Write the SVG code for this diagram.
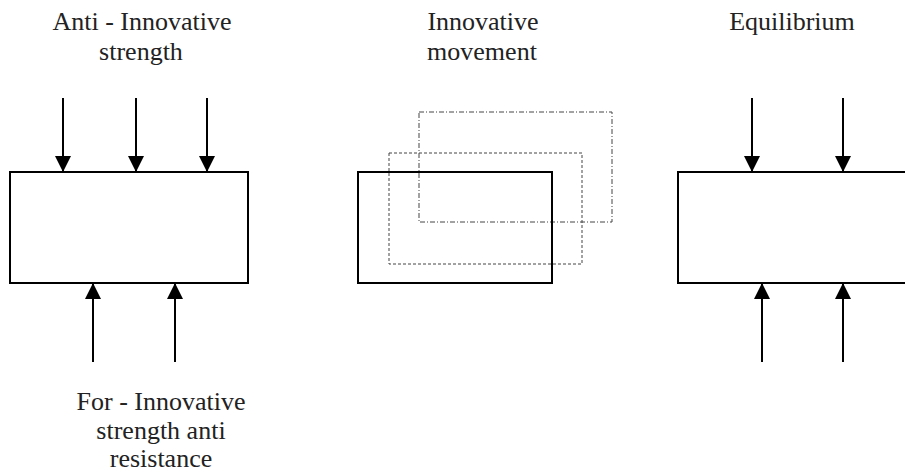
<svg xmlns="http://www.w3.org/2000/svg" width="905" height="475" viewBox="0 0 905 475">
<style>
.box{fill:none;stroke:#000;stroke-width:2}
.arr{stroke:#000;stroke-width:2;marker-end:url(#ah)}
.dash{fill:none;stroke:#444;stroke-width:1;stroke-dasharray:3 2}
.dashdot{fill:none;stroke:#444;stroke-width:1;stroke-dasharray:5 2 1 2}
</style>
<defs>
<marker id="ah" markerUnits="userSpaceOnUse" markerWidth="16" markerHeight="16" viewBox="0 0 16 16" refX="16" refY="8" orient="auto">
<path d="M0,0 L16,8 L0,16 Z" fill="#000"/>
</marker>
</defs>
<g id="labels" font-family="Liberation Serif, Times New Roman, Times, serif" font-size="26" fill="#222" text-anchor="middle">
<text x="142" y="30">Anti - Innovative</text>
<text x="141" y="60">strength</text>
<text x="483" y="30">Innovative</text>
<text x="482" y="60">movement</text>
<text x="792" y="30">Equilibrium</text>
<text x="161" y="410">For - Innovative</text>
<text x="161" y="439">strength anti</text>
<text x="161" y="467">resistance</text>
</g>
<g id="node-anti">
<rect class="box" x="10" y="172" width="238" height="111"/>
</g>
<g id="node-movement">
<rect class="dashdot" x="419" y="112" width="193" height="110"/>
<rect class="dash" x="389" y="153" width="193" height="111"/>
<rect class="box" x="358" y="172" width="194" height="111"/>
</g>
<g id="node-equilibrium">
<rect class="box" x="678" y="172" width="240" height="111"/>
</g>
<g id="connectors">
<line class="arr" x1="63" y1="98" x2="63" y2="172"/>
<line class="arr" x1="136" y1="98" x2="136" y2="172"/>
<line class="arr" x1="207" y1="98" x2="207" y2="172"/>
<line class="arr" x1="93" y1="362" x2="93" y2="283"/>
<line class="arr" x1="175" y1="362" x2="175" y2="283"/>
<line class="arr" x1="752" y1="98" x2="752" y2="172"/>
<line class="arr" x1="843" y1="98" x2="843" y2="172"/>
<line class="arr" x1="762" y1="362" x2="762" y2="283"/>
<line class="arr" x1="843" y1="362" x2="843" y2="283"/>
</g>
</svg>
